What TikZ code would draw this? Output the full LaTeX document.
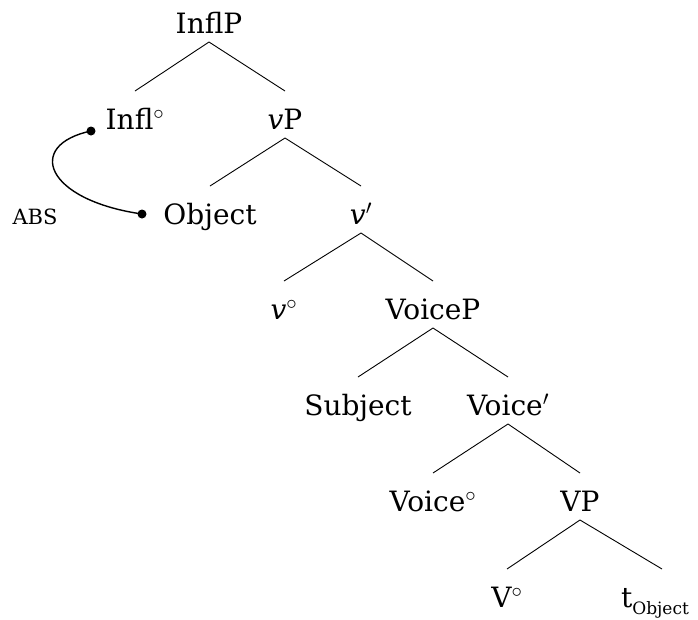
\documentclass[tikz,border=0pt]{standalone}
\usepackage{fontspec}
\setmainfont{DejaVu Serif}
\usetikzlibrary{calc}
\newcommand{\dg}{$^{\circ}$}
\newcommand{\pr}{$'$}
\begin{document}
\begin{tikzpicture}[x=1pt,y=-1pt,
  lab/.style={anchor=base,inner sep=0pt,font=\fontsize{28}{30}\selectfont},
  branch/.style={line width=0.9pt},
  dotnode/.style={circle,fill=black,inner sep=0pt,minimum size=9pt},
  arc/.style={line width=1.4pt}]
\useasboundingbox (0,0) rectangle (698,619);
\node[lab] (inflp) at (209,33) {InflP};
\node[lab] (infl) at (135,129) {Infl\dg};
\node[lab] (vp) at (285,129) {\textit{v}P};
\node[lab] (obj) at (210,224) {Object};
\node[lab] (vbar) at (361,224) {\textit{v}\pr};
\node[lab] (vhead) at (284,319) {\textit{v}\dg};
\node[lab] (voicep) at (433,319) {VoiceP};
\node[lab] (subj) at (358,415) {Subject};
\node[lab] (voicebar) at (508,415) {Voice\pr};
\node[lab] (voicehead) at (433,511) {Voice\dg};
\node[lab] (vpp) at (580,511) {VP};
\node[lab] (vh) at (507,607) {V\dg};
\node[lab] (trace) at (655,607) {t\raisebox{-0.28em}{\fontsize{17}{19}\selectfont Object}};
\node[anchor=base,inner sep=0pt,font=\fontsize{21}{23}\selectfont] (abs) at (35,224) {ABS};
\foreach \p/\c in {inflp/infl,inflp/vp,vp/obj,vp/vbar,vbar/vhead,vbar/voicep,voicep/subj,voicep/voicebar,voicebar/voicehead,voicebar/vpp,vpp/vh}
  \draw[branch] ([yshift=-9pt]\p.base) -- ([yshift=38pt]\c.base);
\draw[branch] ([yshift=-9pt]vpp.base) -- ([yshift=38pt,xshift=7pt]trace.base);
\node[dotnode] (d1) at (91,131) {};
\node[dotnode] (d2) at (142,214) {};
\draw[arc] (d1.center) .. controls (25,145) and (45,200) .. (d2.center);
\end{tikzpicture}
\end{document}
